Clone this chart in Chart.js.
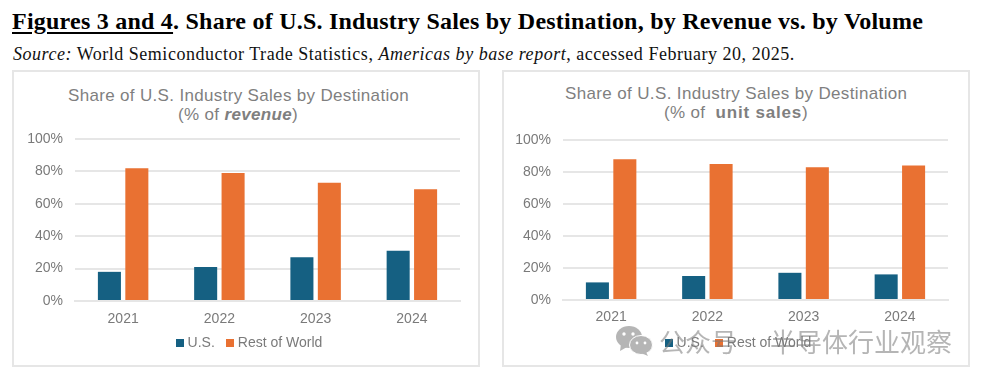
<!DOCTYPE html>
<html>
<head>
<meta charset="utf-8">
<script src="https://cdn.jsdelivr.net/npm/chart.js@4"></script>
<style>
    html, body { margin: 0; padding: 0; background: #fff; }
    body { position: relative; width: 984px; height: 379px; overflow: hidden; }
    .heading {
        position: absolute; left: 12px; top: 8px; white-space: nowrap;
        font: bold 24px "Liberation Serif", serif; color: #000; letter-spacing: 0.23px;
    }
    .heading u { text-decoration-thickness: 2px; text-underline-offset: 3px; }
    .source {
        position: absolute; left: 13px; top: 44px; white-space: nowrap;
        font: 18px "Liberation Serif", serif; color: #111; letter-spacing: 0.52px;
    }
    .panel {
        position: absolute; width: 464px; height: 293px; top: 70px;
        border: 2px solid #e6e6e6; background: #fff;
    }
    .panel canvas { position: absolute; left: 0; top: 0; }
    .chart-title {
        position: absolute; text-align: center; white-space: nowrap;
        font: 17px/19px "Liberation Sans", sans-serif; color: #7f7f7f; letter-spacing: 0.33px;
    }
    .watermark {
        position: absolute; left: 659px; top: 322px; white-space: nowrap;
        font: 26px "Noto Sans CJK SC", sans-serif; color: rgba(120, 120, 120, 0.55);
    }
    .watermark span { margin-left: 33px; }
    .wechat { position: absolute; left: 615px; top: 326px; }
</style>
</head>
<body>

<div class="heading"><u>Figures 3 and 4</u>. Share of U.S. Industry Sales by Destination, by Revenue vs. by Volume</div>
<div class="source"><i>Source:</i> World Semiconductor Trade Statistics, <i>Americas by base report</i>, accessed February 20, 2025.</div>

<div class="panel" style="left: 12px;">
    <div class="chart-title" style="top: 14px; left: 54px; width: 340px;">Share of U.S. Industry Sales by Destination<br>(% of <b><i>revenue</i></b>)</div>
    <canvas id="revenueChart" width="464" height="293"></canvas>
</div>
<div class="panel" style="left: 502px;">
    <div class="chart-title" style="top: 12px; left: 61px; width: 342px; letter-spacing: 0.36px;">Share of U.S. Industry Sales by Destination<br>(% of &nbsp;<b style="letter-spacing: 0.8px;">unit sales</b>)</div>
    <canvas id="unitChart" width="464" height="293"></canvas>
</div>

<svg class="wechat" width="38" height="30" viewBox="0 0 38 30">
    <ellipse cx="14" cy="11" rx="13" ry="11" fill="#b5b5b5"/>
    <path d="M6 18 L5 25 L12 21 Z" fill="#b5b5b5"/>
    <ellipse cx="26" cy="19" rx="11.5" ry="9.5" fill="#b5b5b5" stroke="#fff" stroke-width="1"/>
    <path d="M31 26 L33 30 L26 27 Z" fill="#b5b5b5"/>
    <circle cx="9" cy="8" r="1.7" fill="#fff"/>
    <circle cx="18" cy="8" r="1.7" fill="#fff"/>
    <circle cx="22" cy="17" r="1.4" fill="#fff"/>
    <circle cx="30" cy="17" r="1.4" fill="#fff"/>
</svg>
<div class="watermark">公众号<span>半导体行业观察</span></div>

<script>
const years = ['2021', '2022', '2023', '2024'];
const seriesNames = ['U.S.', 'Rest of World'];
const seriesColors = ['#156082', '#e97132'];
const revenueUS = [18, 21, 27, 31];
const revenueWorld = [82, 79, 73, 69];
const unitsUS = [11, 15, 17, 16];
const unitsWorld = [88, 85, 83, 84];
const percentTicks = [0, 20, 40, 60, 80, 100];

const textColor = '#7a7a7a';
const gridColor = '#e6e6e6';

// legend swatch as a small canvas, so the label sits closer to it than chart.js normally allows
function makeSwatch(color) {
    const swatch = document.createElement('canvas');
    swatch.width = 8;
    swatch.height = 8;
    const ctx = swatch.getContext('2d');
    ctx.fillStyle = color;
    ctx.fillRect(0, 0, 8, 8);
    return swatch;
}

// the legend sits off centre and tucks up under the x labels
function legendPlacement(box) {
    return {
        id: 'legendPlacement',
        beforeLayout(chart) {
            const legend = chart.legend;
            const fit = legend.fit;
            legend.fit = function () {
                fit.call(this);
                this.height = box.legendHeight;
            };
        },
        afterLayout(chart) {
            const legend = chart.legend;
            legend.top = box.legendTop;
            legend.left = box.legendLeft;
            legend.right = box.legendRight;
        }
    };
}

function createChart(canvasId, usValues, worldValues, box) {
    const ctx = document.getElementById(canvasId).getContext('2d');
    return new Chart(ctx, {
        type: 'bar',
        data: {
            labels: years,
            datasets: [{
                label: seriesNames[0],
                data: usValues,
                backgroundColor: seriesColors[0],
                pointStyle: makeSwatch(seriesColors[0])
            }, {
                label: seriesNames[1],
                data: worldValues,
                backgroundColor: seriesColors[1],
                pointStyle: makeSwatch(seriesColors[1])
            }]
        },
        plugins: [legendPlacement(box)],
        options: {
            responsive: false,
            animation: false,
            datasets: {
                bar: { categoryPercentage: 0.57, barPercentage: 0.84 }
            },
            layout: {
                padding: { left: 0, right: box.right, top: box.top, bottom: 0 }
            },
            plugins: {
                title: { display: false },
                tooltip: { enabled: false },
                legend: {
                    position: 'bottom',
                    labels: {
                        usePointStyle: true,
                        pointStyleWidth: 1,
                        boxHeight: 8,
                        padding: 15,
                        color: textColor,
                        font: { family: 'Liberation Sans', size: 14 }
                    }
                }
            },
            scales: {
                x: {
                    afterFit: (axis) => { axis.height = 28; },
                    grid: { display: false, drawTicks: false },
                    border: { color: gridColor, width: 2 },
                    ticks: {
                        padding: box.xTickPad,
                        color: textColor,
                        font: { family: 'Liberation Sans', size: 14 }
                    }
                },
                y: {
                    min: 0,
                    max: 100,
                    afterBuildTicks: (axis) => { axis.ticks = percentTicks.map((v) => ({ value: v })); },
                    afterFit: (axis) => { axis.width = box.yWidth; },
                    grid: { color: gridColor, lineWidth: 2, drawTicks: false },
                    border: { display: false },
                    ticks: {
                        padding: 12,
                        color: textColor,
                        font: { family: 'Liberation Sans', size: 14 },
                        callback: (value) => value + '%'
                    }
                }
            }
        }
    });
}

createChart('revenueChart', revenueUS, revenueWorld, {
    right: 18, top: 67, yWidth: 61, xTickPad: 10,
    legendHeight: 36, legendTop: 249, legendLeft: 14, legendRight: 460
});
createChart('unitChart', unitsUS, unitsWorld, {
    right: 20, top: 68, yWidth: 59, xTickPad: 9,
    legendHeight: 37, legendTop: 249, legendLeft: 14, legendRight: 458
});
</script>
</body>
</html>
